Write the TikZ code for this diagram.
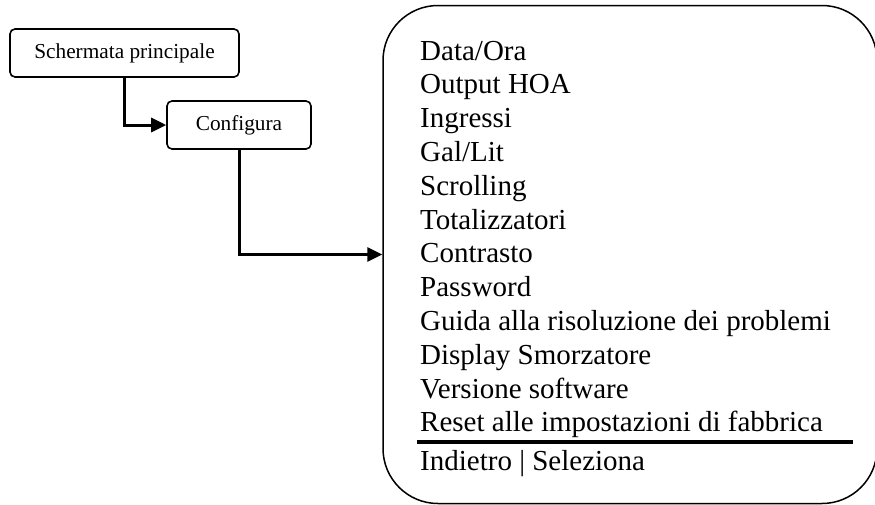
\documentclass[tikz,border=0pt]{standalone}
\usepackage{fontspec}
\setmainfont{Liberation Serif}
\usetikzlibrary{arrows.meta}
\begin{document}
\begin{tikzpicture}[x=1pt,y=-1pt,
  smallbox/.style={draw, line width=1.6pt, rounded corners=5pt, inner sep=0pt,
    font=\fontsize{21.3}{25}\selectfont},
  bigbox/.style={draw, line width=1.5pt, rounded corners=55pt, inner sep=0pt},
  item/.style={anchor=base west, inner sep=0pt, font=\fontsize{29}{34}\selectfont},
  conn/.style={line width=3pt, -{Triangle[length=15pt,width=14pt]}}]
\useasboundingbox (0,0) rectangle (875,504);
\node[smallbox, minimum width=229pt, minimum height=48pt] (main) at (124.5,53) {Schermata principale};
\node[smallbox, minimum width=144pt, minimum height=48pt] (conf) at (239,125) {Configura};
\node[bigbox, minimum width=494pt, minimum height=498pt] (menu) at (630,254.5) {};
\foreach \t [count=\i] in {Data/Ora, Output HOA, Ingressi, Gal/Lit, Scrolling, Totalizzatori, Contrasto, Password, Guida alla risoluzione dei problemi, Display Smorzatore, Versione software, Reset alle impostazioni di fabbrica}
  \node[item] (l\i) at (420,{60+(\i-1)*33.8}) {\t};
\node[item] (back) at (420,470) {Indietro | Seleziona};
\coordinate (sepA) at (417,442);
\coordinate (sepB) at (853,442);
\draw[line width=3.2pt] (sepA) -- (sepB);
\draw[conn] (main.south) |- (conf.west);
\draw[conn] (conf.south) |- (menu.west);
\end{tikzpicture}
\end{document}
